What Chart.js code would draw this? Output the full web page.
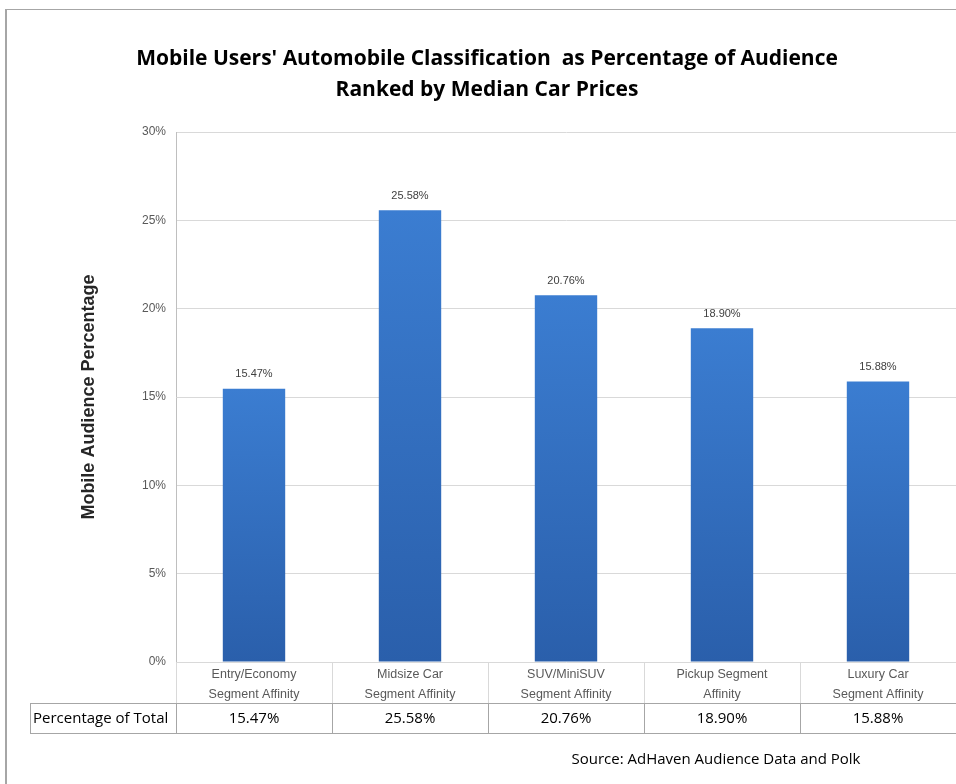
<!DOCTYPE html>
<html>
<head>
<meta charset="utf-8">
<script src="https://cdn.jsdelivr.net/npm/chart.js@4/dist/chart.umd.min.js"></script>
<style>
  html, body { margin: 0; padding: 0; background: #fff; }
  #wrap { position: relative; width: 956px; height: 784px; overflow: hidden; }
  #frame { position: absolute; left: 5px; top: 9px; width: 960px; height: 800px;
           border-top: 1px solid #a6a6a6; border-left: 2px solid #a6a6a6; }
  canvas { position: absolute; left: 0; top: 0; }
</style>
</head>
<body>
<div id="wrap">
  <div id="frame"></div>
  <canvas id="chart1" width="956" height="784"></canvas>
</div>
<script>
var categories = [
  ['Entry/Economy', 'Segment Affinity'],
  ['Midsize Car', 'Segment Affinity'],
  ['SUV/MiniSUV', 'Segment Affinity'],
  ['Pickup Segment', 'Affinity'],
  ['Luxury Car', 'Segment Affinity']
];
var shares = [15.47, 25.58, 20.76, 18.90, 15.88];
var yTicks = [0, 5, 10, 15, 20, 25, 30];
var rowTitle = 'Percentage of Total';
var sourceText = 'Source: AdHaven Audience Data and Polk';

function barFill(ctx) {
  var chart = ctx.chart;
  if (!chart.chartArea || ctx.raw === undefined) return '#2f6cbf';
  var y = chart.scales.y;
  var top = y.getPixelForValue(ctx.raw);
  var g = chart.ctx.createLinearGradient(0, top, 0, y.getPixelForValue(0));
  g.addColorStop(0, '#3b7dd1');
  g.addColorStop(1, '#2a5fab');
  return g;
}

// labels above bars, separators under the axis, the data table and source line
var extras = {
  id: 'extras',
  afterDatasetsDraw: function(chart) {
    var c = chart.ctx;
    var meta = chart.getDatasetMeta(0);
    c.save();
    c.font = '11px "Liberation Sans", Arial, sans-serif';
    c.fillStyle = '#404040';
    c.textAlign = 'center';
    c.textBaseline = 'bottom';
    meta.data.forEach(function(bar, i) {
      c.fillText(shares[i].toFixed(2) + '%', bar.x, bar.y - 9);
    });
    c.restore();
  },
  afterDraw: function(chart) {
    var c = chart.ctx;
    var area = chart.chartArea;
    var x = chart.scales.x;
    var n = categories.length;
    var catW = (area.right - area.left) / n;
    var rowTop = 703, rowBot = 733;
    c.save();
    // separators under the plot
    c.strokeStyle = '#d9d9d9';
    c.lineWidth = 1;
    for (var i = 0; i <= n; i++) {
      var px = Math.round(area.left + i * catW) + 0.5;
      c.beginPath();
      c.moveTo(px, area.bottom);
      c.lineTo(px, rowTop);
      c.stroke();
    }
    // table row covers the lower edge of the axis labels
    c.fillStyle = '#fff';
    c.fillRect(30, rowTop, 926, rowBot - rowTop);
    c.strokeStyle = '#a6a6a6';
    c.beginPath();
    c.moveTo(30, rowTop + 0.5); c.lineTo(956, rowTop + 0.5);
    c.moveTo(30, rowBot + 0.5); c.lineTo(956, rowBot + 0.5);
    c.moveTo(30.5, rowTop); c.lineTo(30.5, rowBot);
    for (var j = 0; j < n; j++) {
      var lx = Math.round(area.left + j * catW) + 0.5;
      c.moveTo(lx, rowTop); c.lineTo(lx, rowBot);
    }
    c.stroke();
    c.fillStyle = '#000';
    c.font = '15px "Open Sans", sans-serif';
    c.textBaseline = 'middle';
    c.textAlign = 'left';
    c.fillText(rowTitle, 33, (rowTop + rowBot) / 2 + 1);
    c.textAlign = 'center';
    for (var k = 0; k < n; k++) {
      c.fillText(shares[k].toFixed(2) + '%', x.getPixelForValue(k), (rowTop + rowBot) / 2 + 1);
    }
    c.fillText(sourceText, 716, 760);
    c.restore();
  }
};

new Chart('chart1', {
  type: 'bar',
  data: {
    labels: categories,
    datasets: [{
      data: shares,
      backgroundColor: barFill,
      barPercentage: 0.4,
      categoryPercentage: 1
    }]
  },
  options: {
    responsive: false,
    animation: false,
    events: [],
    layout: { padding: { top: 43, left: 18, right: 0, bottom: 82 } },
    plugins: {
      legend: { display: false },
      tooltip: { enabled: false },
      title: {
        display: true,
        text: ["Mobile Users' Automobile Classification  as Percentage of Audience", 'Ranked by Median Car Prices'],
        font: { family: '"Open Sans", sans-serif', size: 21, weight: 'bold', lineHeight: 1.48 },
        color: '#000',
        padding: { top: 0, bottom: 27 }
      }
    },
    scales: {
      x: {
        grid: { display: false },
        border: { display: false },
        ticks: {
          color: '#595959',
          font: { family: '"Liberation Sans", Arial, sans-serif', size: 12.5, lineHeight: 1.55 },
          padding: -5,
          maxRotation: 0,
          autoSkip: false
        },
        afterFit: function(s) { s.height = 40; }
      },
      y: {
        min: 0,
        max: 30,
        afterBuildTicks: function(s) { s.ticks = yTicks.map(function(v) { return { value: v }; }); },
        ticks: {
          color: '#595959',
          font: { family: '"Liberation Sans", Arial, sans-serif', size: 12 },
          padding: 10,
          callback: function(v) { return v + '%'; }
        },
        grid: { color: '#d9d9d9', drawTicks: false },
        border: { color: '#bfbfbf' },
        title: {
          display: true,
          text: 'Mobile Audience Percentage',
          color: '#262626',
          font: { family: '"Liberation Sans", Arial, sans-serif', size: 18, weight: 'bold' },
          padding: { top: 60, bottom: 0 }
        },
        afterFit: function(s) { s.width = 158; }
      }
    }
  },
  plugins: [extras]
});
</script>
</body>
</html>
